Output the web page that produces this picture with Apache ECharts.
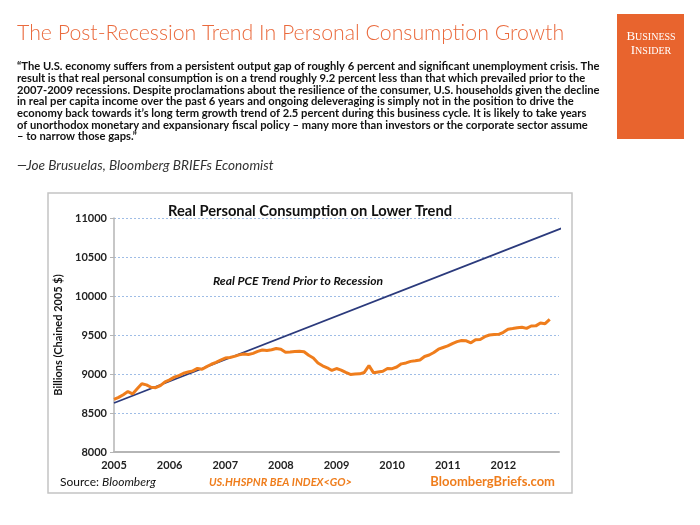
<!DOCTYPE html>
<html><head><meta charset="utf-8">
<script src="https://cdn.jsdelivr.net/npm/echarts@6/dist/echarts.min.js"></script>
<style>html,body{margin:0;padding:0;background:#fff}#c{width:700px;height:525px}</style>
</head><body><div id="c"></div>
<script>
// ---- data ----
const startYear = 2005;
const yearTicks = [2005, 2006, 2007, 2008, 2009, 2010, 2011, 2012];
const yTicks = [8000, 8500, 9000, 9500, 10000, 10500, 11000];
// Monthly real personal consumption (billions, chained 2005 $), Jan 2005 onward
const consumption = [
  8675, 8700, 8735, 8775, 8745, 8810, 8875, 8860, 8830, 8825, 8850, 8900,
  8925, 8960, 8980, 9010, 9025, 9040, 9072, 9060, 9095, 9125, 9150, 9178,
  9205, 9212, 9226, 9245, 9257, 9250, 9265, 9290, 9308, 9300, 9310, 9326,
  9318, 9280, 9282, 9288, 9291, 9285, 9240, 9205, 9140, 9105, 9080, 9045,
  9070, 9050, 9020, 8995, 9000, 9002, 9020, 9108, 9015, 9025, 9035, 9070,
  9068, 9090, 9130, 9142, 9162, 9170, 9180, 9225, 9243, 9275, 9318, 9340,
  9360, 9390, 9415, 9430, 9426, 9400, 9440, 9443, 9478, 9500, 9505, 9508,
  9535, 9575, 9582, 9592, 9600, 9585, 9615, 9617, 9655, 9645, 9700
];
// Pre-recession trend line endpoints
const trendX = [2005, 2013.06];
const trendY = [8628, 10872];

const quoteLines = [
  "\u201CThe U.S. economy suffers from a persistent output gap of roughly 6 percent and significant unemployment crisis. The",
  "result is that real personal consumption is on a trend roughly 9.2 percent less than that which prevailed prior to the",
  "2007-2009 recessions. Despite proclamations about the resilience of the consumer, U.S. households given the decline",
  "in real per capita income over the past 6 years and ongoing deleveraging is simply not in the position to drive the",
  "economy back towards it\u2019s long term growth trend of 2.5 percent during this business cycle. It is likely to take years",
  "of unorthodox monetary and expansionary fiscal policy \u2013 many more than investors or the corporate sector assume",
  "\u2013 to narrow those gaps.\u201D"
];

// ---- build ----
const consData = consumption.map((v, i) => [startYear + i / 12, v]);
const trendData = trendX.map((x, i) => [x, trendY[i]]);

const chart = echarts.init(document.getElementById('c'), null, {renderer: 'canvas'});
const orange = '#ef7d1c';
const graphics = [
  {type: 'rect', shape: {x: 48, y: 193, width: 524, height: 300}, style: {fill: '#fff', stroke: '#c4c4c4', lineWidth: 1.5}, z: -10},
  {type: 'text', x: 17, y: 33, style: {text: 'The Post-Recession Trend In Personal Consumption Growth', font: '300 21.3px Lato', fill: '#ea6a3d', verticalAlign: 'middle'}},
  {type: 'rect', shape: {x: 617, y: 14, width: 67, height: 125}, style: {fill: '#e8642e'}},
  {type: 'text', x: 651, y: 37, style: {text: '{a|B}{b|USINESS}', align: 'center', verticalAlign: 'middle', rich: {a: {font: '13px "Liberation Serif"', fill: '#fff'}, b: {font: '10px "Liberation Serif"', fill: '#fff'}}}},
  {type: 'text', x: 651, y: 51, style: {text: '{a|I}{b|NSIDER}', align: 'center', verticalAlign: 'middle', rich: {a: {font: '13px "Liberation Serif"', fill: '#fff'}, b: {font: '10px "Liberation Serif"', fill: '#fff'}}}},
  {type: 'text', x: 17, y: 166, style: {text: '\u2014Joe Brusuelas, Bloomberg BRIEFs Economist', font: 'italic 13.6px Lato', fill: '#333', verticalAlign: 'middle'}},
  {type: 'text', x: 310, y: 211, style: {text: 'Real Personal Consumption on Lower Trend', font: 'bold 14.7px Lato', fill: '#111', align: 'center', verticalAlign: 'middle'}},
  {type: 'text', x: 298, y: 281, style: {text: 'Real PCE Trend Prior to Recession', font: 'italic bold 12.1px Lato', fill: '#111', align: 'center', verticalAlign: 'middle'}},
  {type: 'text', x: 60, y: 482, style: {text: '{n|Source: }{i|Bloomberg}', verticalAlign: 'middle', rich: {n: {font: '12px Lato', fill: '#111'}, i: {font: 'italic 12px Lato', fill: '#111'}}}},
  {type: 'text', x: 209, y: 482, style: {text: 'US.HHSPNR BEA INDEX<GO>', font: 'italic bold 11px Lato', fill: orange, verticalAlign: 'middle'}},
  {type: 'text', x: 555, y: 482, style: {text: 'BloombergBriefs.com', font: 'bold 13px Lato', fill: orange, align: 'right', verticalAlign: 'middle'}}
];
quoteLines.forEach((t, i) => {
  graphics.push({type: 'text', x: 17, y: 66.7 + i * 11.67, style: {text: t, font: 'bold 11.2px Lato', fill: '#111', verticalAlign: 'middle'}});
});

chart.setOption({
  animation: false,
  backgroundColor: '#fff',
  grid: {left: 114, right: 141, top: 218, bottom: 73, containLabel: false},
  xAxis: {
    type: 'value', min: 2005, max: 2013, interval: 1,
    axisLine: {show: true, lineStyle: {color: '#b5b5b5', width: 2}},
    axisTick: {show: false},
    splitLine: {show: false},
    axisLabel: {
      margin: 8, color: '#222', fontFamily: 'Lato', fontWeight: 'bold', fontSize: 11,
      formatter: v => (yearTicks.indexOf(v) >= 0 ? String(v) : '')
    }
  },
  yAxis: {
    type: 'value', min: yTicks[0], max: yTicks[yTicks.length - 1], interval: 500,
    name: 'Billions (Chained 2005 $)', nameLocation: 'middle', nameGap: 46, nameRotate: 90,
    nameTextStyle: {fontFamily: 'Lato', fontWeight: 'bold', fontSize: 11, color: '#111'},
    axisLine: {show: true, lineStyle: {color: '#b5b5b5', width: 1.5}},
    axisTick: {show: true, length: 4, lineStyle: {color: '#b5b5b5'}},
    splitLine: {show: true, lineStyle: {color: '#9fbde6', type: [2, 2], width: 1}},
    axisLabel: {margin: 7, color: '#222', fontFamily: 'Lato', fontWeight: 'bold', fontSize: 11,
      formatter: v => (yTicks.indexOf(v) >= 0 ? String(v) : '')}
  },
  series: [
    {type: 'line', data: trendData, showSymbol: false, clip: false, lineStyle: {color: '#2b3a7c', width: 1.8}, z: 3},
    {type: 'line', data: consData, showSymbol: false, lineStyle: {color: orange, width: 3}, z: 4}
  ],
  graphic: graphics
});
</script></body></html>
